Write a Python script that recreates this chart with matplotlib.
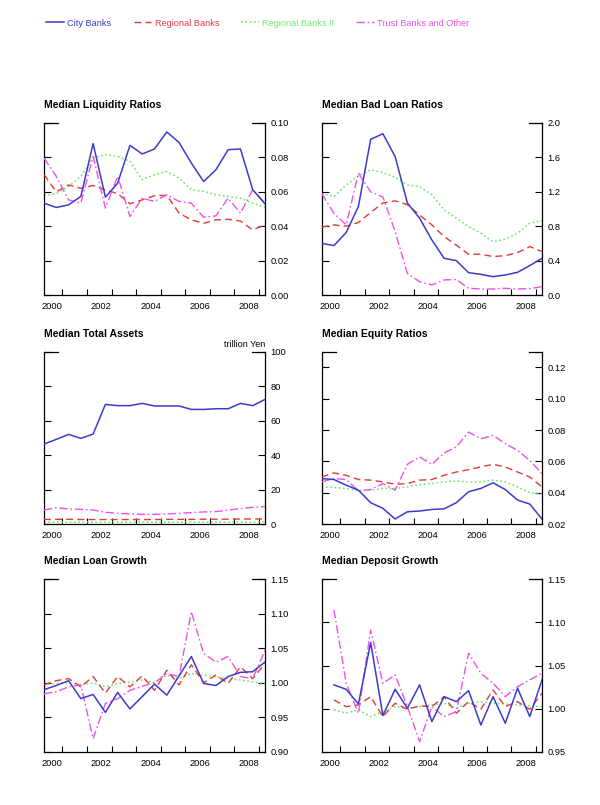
import numpy as np
import matplotlib
matplotlib.use("Agg")
import matplotlib.pyplot as plt
from matplotlib.ticker import FixedLocator, FormatStrFormatter

plt.rcParams['font.family'] = ['Liberation Sans', 'DejaVu Sans']

# semiannual observations (fiscal half years)
periods = ["1999-09", "2000-03", "2000-09", "2001-03", "2001-09", "2002-03",
           "2002-09", "2003-03", "2003-09", "2004-03", "2004-09", "2005-03",
           "2005-09", "2006-03", "2006-09", "2007-03", "2007-09", "2008-03",
           "2008-09"]
year_labels = [2000, 2002, 2004, 2006, 2008]

series = ["City Banks", "Regional Banks", "Regional Banks II", "Trust Banks and Other"]

# Median Liquidity Ratios
liq_city = [0.0534, 0.0509, 0.0524, 0.0573, 0.088, 0.0569, 0.065, 0.087, 0.082, 0.0849,
            0.0948, 0.0887, 0.0767, 0.066, 0.0728, 0.0845, 0.0849, 0.0612, 0.053]
liq_regional = [0.070, 0.060, 0.064, 0.062, 0.0637, 0.061, 0.059, 0.053, 0.0553, 0.0577,
                0.058, 0.0476, 0.0437, 0.0417, 0.0437, 0.044, 0.043, 0.0379, 0.0408]
liq_regional2 = [0.058, 0.059, 0.063, 0.069, 0.0796, 0.0816, 0.0806, 0.0777, 0.067, 0.070,
                 0.0718, 0.068, 0.0612, 0.0602, 0.0583, 0.0573, 0.0563, 0.0534, 0.051]
liq_trust = [0.0796, 0.069, 0.0553, 0.0534, 0.0806, 0.0505, 0.069, 0.0456, 0.0563, 0.0544,
             0.0583, 0.0544, 0.0534, 0.0452, 0.046, 0.0563, 0.0476, 0.0612, 0.0534]

# Median Bad Loan Ratios
bad_city = [0.60, 0.575, 0.726, 1.03, 1.81, 1.875, 1.61, 1.07, 0.893, 0.64,
            0.427, 0.40, 0.26, 0.24, 0.213, 0.233, 0.264, 0.342, 0.427]
bad_regional = [0.79, 0.815, 0.80, 0.843, 0.96, 1.07, 1.095, 1.05, 0.93, 0.815,
                0.68, 0.58, 0.474, 0.474, 0.447, 0.458, 0.493, 0.563, 0.505]
bad_regional2 = [1.18, 1.145, 1.28, 1.386, 1.456, 1.425, 1.37, 1.28, 1.26, 1.165,
                 0.99, 0.893, 0.796, 0.718, 0.62, 0.65, 0.718, 0.835, 0.866]
bad_trust = [1.18, 0.95, 0.815, 1.417, 1.20, 1.14, 0.74, 0.25, 0.155, 0.117,
             0.175, 0.18, 0.078, 0.07, 0.07, 0.078, 0.07, 0.074, 0.097]

# Median Total Assets (trillion Yen)
ta_city = [46.4, 49.1, 52.0, 49.7, 52.2, 69.4, 68.7, 68.7, 70.0, 68.5,
           68.5, 68.5, 66.5, 66.5, 66.9, 66.9, 70.0, 68.7, 72.3]
ta_regional = [2.6, 2.7, 2.7, 2.6, 2.6, 2.6, 2.6, 2.6, 2.6, 2.6,
               2.7, 2.7, 2.7, 2.8, 2.8, 2.8, 2.9, 2.9, 3.0]
ta_regional2 = [1.1, 1.1, 1.1, 1.1, 1.1, 1.1, 1.1, 1.1, 1.1, 1.1,
                1.1, 1.2, 1.2, 1.2, 1.2, 1.2, 1.2, 1.2, 1.3]
ta_trust = [8.1, 9.5, 8.7, 8.5, 8.1, 6.8, 6.2, 5.8, 5.6, 5.6,
            5.8, 6.2, 6.6, 7.0, 7.2, 8.1, 8.9, 9.7, 10.1]

# Median Equity Ratios
eq_city = [0.049, 0.0484, 0.0448, 0.0416, 0.0336, 0.030, 0.0232, 0.0278, 0.0283, 0.0293,
           0.0297, 0.0336, 0.0406, 0.0427, 0.0463, 0.042, 0.0353, 0.0327, 0.0232]
eq_regional = [0.050, 0.0526, 0.0511, 0.0484, 0.048, 0.0469, 0.0454, 0.0458, 0.048, 0.0484,
               0.0511, 0.0532, 0.0547, 0.0564, 0.0581, 0.0564, 0.0532, 0.050, 0.0437]
eq_regional2 = [0.0437, 0.0433, 0.0427, 0.0412, 0.0416, 0.0427, 0.0427, 0.0437, 0.0452, 0.0458,
                0.0469, 0.0475, 0.0469, 0.0469, 0.048, 0.0469, 0.0437, 0.040, 0.0391]
eq_trust = [0.0469, 0.049, 0.0484, 0.0412, 0.042, 0.0458, 0.0416, 0.0581, 0.0628, 0.0581,
            0.0653, 0.0692, 0.0787, 0.0744, 0.0766, 0.0713, 0.067, 0.0606, 0.0522]

# Median Loan Growth
lg_city = [0.990, 0.996, 1.003, 0.977, 0.983, 0.957, 0.986, 0.962, 0.980, 0.998,
           0.982, 1.010, 1.038, 0.999, 0.996, 1.009, 1.015, 1.016, 1.030]
lg_regional = [0.997, 1.003, 1.006, 0.994, 1.009, 0.985, 1.009, 0.994, 1.010, 0.989,
               1.018, 0.997, 1.026, 1.000, 1.011, 0.999, 1.023, 1.006, 1.028]
lg_regional2 = [0.997, 0.999, 1.000, 0.997, 1.000, 0.994, 0.999, 1.001, 1.004, 1.000,
                1.011, 1.006, 1.0135, 1.011, 1.0087, 1.006, 1.004, 1.001, 0.999]
lg_trust = [0.984, 0.987, 0.994, 0.997, 0.919, 0.970, 0.977, 0.989, 0.995, 1.000,
            1.0135, 1.009, 1.103, 1.0425, 1.030, 1.038, 1.009, 1.006, 1.047]

# Median Deposit Growth (starts one period later)
dg_city = [1.0275, 1.0224, 1.0054, 1.0766, 0.9919, 1.0224, 1.0004, 1.0275, 0.9849,
           1.0139, 1.0081, 1.0209, 0.981, 1.0139, 0.983, 1.0236, 0.9907, 1.0333]
dg_regional = [1.010, 1.0023, 1.0042, 1.0139, 0.9907, 1.0062, 0.9992, 1.0031, 1.0023,
               1.0139, 0.9946, 1.0081, 0.9992, 1.0217, 1.0023, 1.0081, 0.9992, 1.0178]
dg_regional2 = [0.9985, 0.9946, 0.9985, 0.9907, 0.9965, 1.0023, 1.0004, 1.0023, 1.0042,
                1.0062, 1.0004, 1.0062, 1.0081, 1.0062, 1.0054, 1.0042, 1.0031, 1.0023]
dg_trust = [1.1145, 1.0294, 0.9946, 1.0913, 1.0294, 1.039, 1.0023, 0.9617, 1.0023,
            0.9907, 0.9965, 1.0642, 1.041, 1.0294, 1.0139, 1.0255, 1.0333, 1.041]


def to_year(p):
    y, m = p.split("-")
    return int(y) + (int(m) - 1) / 12.0


x = np.array([to_year(p) for p in periods])

styles = {
    "City Banks": dict(color="#3b3bcc", ls="-", lw=1.1, zorder=5),
    "Regional Banks": dict(color="#e23a3a", ls=(0, (5, 3)), lw=1.0, zorder=3),
    "Regional Banks II": dict(color="#6fe86f", ls=(0, (1.2, 1.6)), lw=1.1, zorder=2),
    "Trust Banks and Other": dict(color="#ee50ee", ls=(0, (6, 2, 1.2, 2)), lw=1.0, zorder=4),
}

fig = plt.figure(figsize=(6.0, 8.05), dpi=100)

cols = [(44 / 600, 221 / 600), (321.7 / 600, 220.3 / 600)]
rows = [(1 - 295 / 805, 172 / 805), (1 - 524 / 805, 172.3 / 805), (1 - 751.7 / 805, 172.4 / 805)]


def make_panel(r, c, title, data, xs, ylim, yticks, fmt):
    ax = fig.add_axes([cols[c][0], rows[r][0], cols[c][1], rows[r][1]])
    for name, vals in zip(series, data):
        ax.plot(xs, vals, label=name, **styles[name])
    ax.set_xlim(x[0], x[-1])
    ax.set_ylim(*ylim)
    ax.xaxis.set_major_locator(FixedLocator(year_labels))
    ax.xaxis.set_minor_locator(FixedLocator([yr + 0.42 for yr in range(2000, 2009)]))
    ax.tick_params(axis="x", which="major", length=0, pad=5, labelsize=6.7)
    ax.tick_params(axis="x", which="minor", direction="in", length=4, width=0.8)
    ax.yaxis.set_major_locator(FixedLocator(yticks))
    ax.yaxis.set_major_formatter(FormatStrFormatter(fmt))
    ax.tick_params(axis="y", which="major", direction="in", length=5, width=0.8,
                   left=True, right=True, labelleft=False, labelright=True,
                   labelsize=6.7, pad=4)
    ax.spines["top"].set_visible(False)
    for s in ["left", "right", "bottom"]:
        ax.spines[s].set_linewidth(0.9)
    # short frame pieces at the top corners
    ax.plot([0, 0.065], [1, 1], transform=ax.transAxes, color="black", lw=0.9, clip_on=False)
    ax.plot([0.94, 1], [1, 1], transform=ax.transAxes, color="black", lw=0.9, clip_on=False)
    ax.text(0, 1.075, title, transform=ax.transAxes, ha="left", va="bottom",
            fontsize=7.5, fontweight="bold")
    return ax


make_panel(0, 0, "Median Liquidity Ratios",
           [liq_city, liq_regional, liq_regional2, liq_trust], x,
           (0, 0.10), [0, 0.02, 0.04, 0.06, 0.08, 0.10], "%.2f")
make_panel(0, 1, "Median Bad Loan Ratios",
           [bad_city, bad_regional, bad_regional2, bad_trust], x,
           (0, 2.0), [0, 0.4, 0.8, 1.2, 1.6, 2.0], "%.1f")
ax3 = make_panel(1, 0, "Median Total Assets",
                 [ta_city, ta_regional, ta_regional2, ta_trust], x,
                 (0, 100), [0, 20, 40, 60, 80, 100], "%d")
ax3.text(1.0, 1.015, "trillion Yen", transform=ax3.transAxes, ha="right", va="bottom",
         fontsize=6.5)
make_panel(1, 1, "Median Equity Ratios",
           [eq_city, eq_regional, eq_regional2, eq_trust], x,
           (0.02, 0.13), [0.02, 0.04, 0.06, 0.08, 0.10, 0.12], "%.2f")
make_panel(2, 0, "Median Loan Growth",
           [lg_city, lg_regional, lg_regional2, lg_trust], x,
           (0.90, 1.15), [0.90, 0.95, 1.00, 1.05, 1.10, 1.15], "%.2f")
make_panel(2, 1, "Median Deposit Growth",
           [dg_city, dg_regional, dg_regional2, dg_trust], x[1:],
           (0.95, 1.15), [0.95, 1.00, 1.05, 1.10, 1.15], "%.2f")

handles = [plt.Line2D([], [], color=styles[n]["color"], ls=styles[n]["ls"],
                      lw=styles[n]["lw"]) for n in series]
fig.legend(handles, series, loc="center", bbox_to_anchor=(258 / 600, 1 - 23 / 805),
           ncol=4, frameon=False, fontsize=6.6, handlelength=1.9, handletextpad=0.4,
           columnspacing=2.4, labelcolor=[styles[n]["color"] for n in series])

fig.savefig("out.png", dpi=100)
